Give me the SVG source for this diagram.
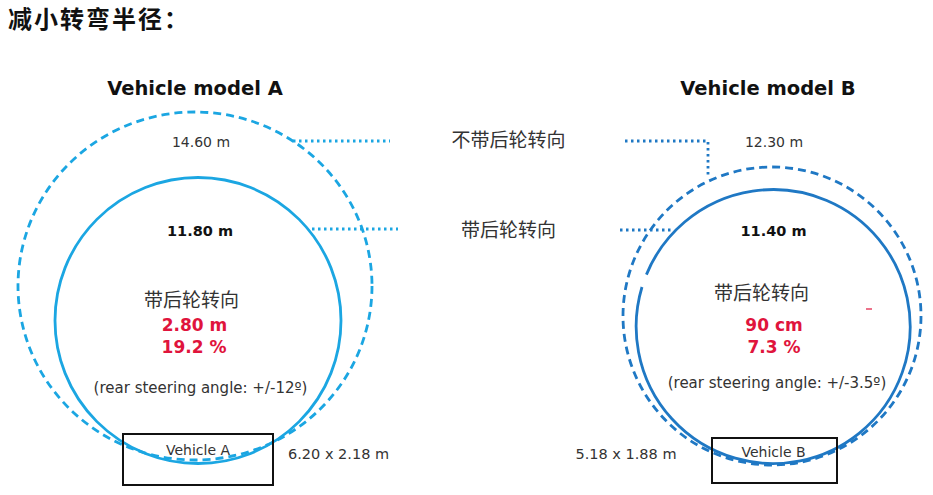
<svg xmlns="http://www.w3.org/2000/svg" width="933" height="495" viewBox="0 0 933 495">
<style>
.t{font-family:"DejaVu Sans","Noto Sans CJK SC",sans-serif;fill:#333}
.b{font-family:"DejaVu Sans","Noto Sans CJK SC",sans-serif;font-weight:bold;fill:#111}
.r{font-family:"DejaVu Sans",sans-serif;font-weight:bold;fill:#e0143c}
.cn{font-family:"Noto Sans CJK SC",sans-serif;fill:#333}
.ca{fill:none;stroke:#1ba6e2;stroke-width:2.8}
.cb{fill:none;stroke:#1f78c4;stroke-width:2.8}
.dash{stroke-dasharray:8 5}
.dotA{fill:none;stroke:#1ba6e2;stroke-width:2.8;stroke-dasharray:2.5 3.5}
.dotB{fill:none;stroke:#1f78c4;stroke-width:2.8;stroke-dasharray:2.5 3.5}
.veh{fill:none;stroke:#111;stroke-width:2}
</style>
<rect width="933" height="495" fill="#fff"/>
<text x="8" y="28" font-family="Noto Sans CJK SC, sans-serif" font-weight="bold" font-size="24" letter-spacing="2" fill="#111">减小转弯半径：</text>

<g id="modelA">
  <ellipse class="ca dash" cx="195" cy="286" rx="177" ry="174"/>
  <circle class="ca" cx="198" cy="320.5" r="143"/>
  <text class="b" x="195" y="95" font-size="19.5" text-anchor="middle">Vehicle model A</text>
  <text class="t" x="201" y="147" font-size="14" text-anchor="middle">14.60 m</text>
  <text class="b" x="200" y="236" font-size="14.5" text-anchor="middle">11.80 m</text>
  <text class="cn" x="191.5" y="307" font-size="19" text-anchor="middle">带后轮转向</text>
  <text class="r" x="194.5" y="331" font-size="17" text-anchor="middle">2.80 m</text>
  <text class="r" x="194" y="353" font-size="17" text-anchor="middle">19.2 %</text>
  <text class="t" x="200.5" y="393" font-size="15" text-anchor="middle">(rear steering angle: +/-12º)</text>
</g>
<g id="vehicleA">
  <rect class="veh" x="123" y="434" width="150" height="51"/>
  <text class="t" x="198" y="455" font-size="14" text-anchor="middle">Vehicle A</text>
  <text class="t" x="288" y="459" font-size="14.5">6.20 x 2.18 m</text>
</g>

<g id="modelB">
  <circle class="cb dash" cx="772" cy="316" r="149"/>
  <path class="cb" d="M646.4,274.6 A137,137 0 1 1 642,287"/>
  <text class="b" x="768" y="95" font-size="19.5" text-anchor="middle">Vehicle model B</text>
  <text class="t" x="774" y="147" font-size="14" text-anchor="middle">12.30 m</text>
  <text class="b" x="773.5" y="236" font-size="14.5" text-anchor="middle">11.40 m</text>
  <text class="cn" x="761.5" y="300" font-size="19" text-anchor="middle">带后轮转向</text>
  <text class="r" x="774" y="331" font-size="17" text-anchor="middle">90 cm</text>
  <text class="r" x="774" y="353" font-size="17" text-anchor="middle">7.3 %</text>
  <text class="t" x="777" y="388" font-size="15" text-anchor="middle">(rear steering angle: +/-3.5º)</text>
  <line x1="866" y1="309" x2="872" y2="309" stroke="#e0143c" stroke-width="1.2"/>
</g>
<g id="vehicleB">
  <rect class="veh" x="712" y="438" width="125" height="45"/>
  <text class="t" x="773.5" y="457" font-size="14" text-anchor="middle">Vehicle B</text>
  <text class="t" x="626" y="459" font-size="14.5" text-anchor="middle">5.18 x 1.88 m</text>
</g>

<g id="legend">
  <text class="cn" x="508.5" y="147" font-size="19" text-anchor="middle">不带后轮转向</text>
  <text class="cn" x="508.5" y="237" font-size="19" text-anchor="middle">带后轮转向</text>
</g>

<g id="connectors">
  <line class="dotA" x1="293" y1="141" x2="390" y2="141"/>
  <line class="dotA" x1="312" y1="229" x2="398" y2="229"/>
  <polyline class="dotB" points="625,141 708,141 708,178"/>
  <line class="dotB" x1="620" y1="230" x2="672" y2="230"/>
</g>
</svg>
